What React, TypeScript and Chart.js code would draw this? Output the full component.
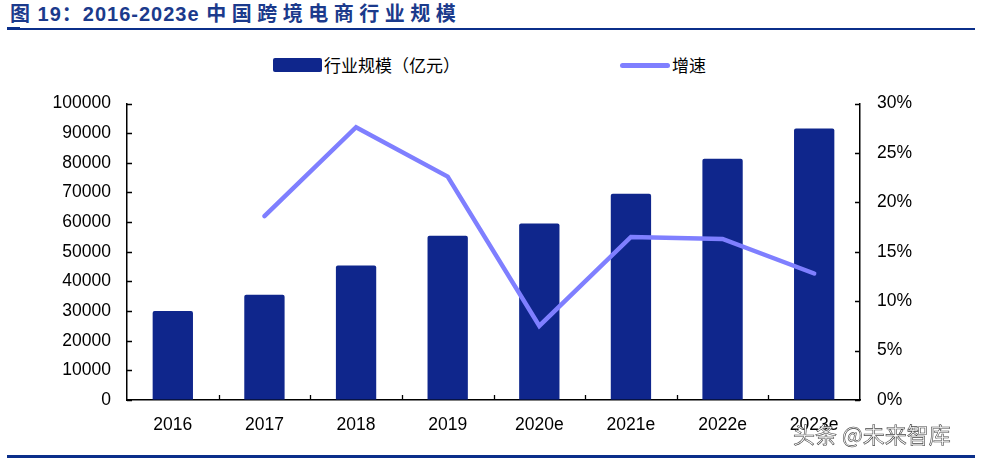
import React, { useEffect, useRef } from "react";
import { Chart, registerables } from "chart.js";

Chart.register(...registerables);

const categories = ["2016", "2017", "2018", "2019", "2020e", "2021e", "2022e", "2023e"];
const marketSize = [30000, 35500, 45400, 55400, 59500, 69600, 81400, 91600];
const growthRate = [null, 0.186, 0.276, 0.226, 0.075, 0.165, 0.163, 0.128];
const leftTicks = [0, 10000, 20000, 30000, 40000, 50000, 60000, 70000, 80000, 90000, 100000];
const rightTicks = [0, 0.05, 0.1, 0.15, 0.2, 0.25, 0.3];

const BAR_COLOR = "#0F268C";
const LINE_COLOR = "#7F7FFF";
const FONT = "'Liberation Sans', Arial, sans-serif";

const innerTicks = {
  id: "innerTicks",
  afterDraw(chart: any) {
    const { ctx, chartArea } = chart;
    const x = chart.scales.x;
    const y = chart.scales.y;
    const y1 = chart.scales.y1;
    ctx.save();
    ctx.strokeStyle = "#000";
    ctx.lineWidth = 1.3;
    ctx.beginPath();
    y.ticks.forEach((_: any, i: number) => {
      const py = Math.round(y.getPixelForTick(i)) + 0.5;
      ctx.moveTo(chartArea.left, py);
      ctx.lineTo(chartArea.left + 5, py);
    });
    y1.ticks.forEach((_: any, i: number) => {
      const py = Math.round(y1.getPixelForTick(i)) + 0.5;
      ctx.moveTo(chartArea.right - 5, py);
      ctx.lineTo(chartArea.right, py);
    });
    for (let i = 0; i < categories.length - 1; i++) {
      const px = Math.round((x.getPixelForTick(i) + x.getPixelForTick(i + 1)) / 2) + 0.5;
      ctx.moveTo(px, chartArea.bottom);
      ctx.lineTo(px, chartArea.bottom - 5);
    }
    ctx.stroke();
    ctx.restore();
  },
};

export default function App() {
  const ref = useRef<HTMLCanvasElement | null>(null);

  useEffect(() => {
    if (!ref.current) return;
    const chart = new Chart(ref.current, {
      data: {
        labels: categories,
        datasets: [
          {
            type: "line",
            label: "增速",
            data: growthRate,
            yAxisID: "y1",
            borderColor: LINE_COLOR,
            backgroundColor: LINE_COLOR,
            borderWidth: 4.5,
            pointRadius: 0,
            borderCapStyle: "round",
            borderJoinStyle: "miter",
            tension: 0,
            order: 0,
          } as any,
          {
            type: "bar",
            label: "行业规模（亿元）",
            data: marketSize,
            yAxisID: "y",
            backgroundColor: BAR_COLOR,
            borderRadius: 2,
            borderSkipped: "bottom",
            categoryPercentage: 1,
            barPercentage: 0.44,
            order: 1,
          } as any,
        ],
      },
      options: {
        animation: false,
        responsive: false,
        maintainAspectRatio: false,
        layout: { padding: { top: 13, bottom: 0, left: 0, right: 0 } },
        plugins: {
          legend: { display: false },
          tooltip: { enabled: false },
        },
        scales: {
          x: {
            offset: true,
            grid: { display: true, drawOnChartArea: false, drawTicks: false },
            border: { display: true, color: "#000", width: 1.5 },
            ticks: { color: "#000", font: { family: FONT, size: 17.5 }, padding: 15 },
            afterFit(scale: any) {
              scale.height = 40;
            },
          },
          y: {
            position: "left",
            min: 0,
            max: 100000,
            afterBuildTicks(scale: any) {
              scale.ticks = leftTicks.map((v) => ({ value: v }));
            },
            grid: { display: true, drawOnChartArea: false, drawTicks: false },
            border: { display: true, color: "#000", width: 1.5 },
            ticks: {
              color: "#000",
              font: { family: FONT, size: 17.5 },
              padding: 16,
              callback: (v: any) => String(v),
            },
            afterFit(scale: any) {
              scale.width = 127;
            },
          },
          y1: {
            position: "right",
            min: 0,
            max: 0.3,
            afterBuildTicks(scale: any) {
              scale.ticks = rightTicks.map((v) => ({ value: v }));
            },
            grid: { display: true, drawOnChartArea: false, drawTicks: false },
            border: { display: true, color: "#000", width: 1.5 },
            ticks: {
              color: "#000",
              font: { family: FONT, size: 17.5 },
              padding: 17,
              callback: (v: any) => Math.round(Number(v) * 100) + "%",
            },
            afterFit(scale: any) {
              scale.width = 129;
            },
          },
        },
      },
      plugins: [innerTicks],
    } as any);
    return () => chart.destroy();
  }, []);

  return (
    <div
      style={{
        position: "fixed",
        left: 0,
        top: 0,
        width: 989,
        height: 465,
        background: "#fff",
        overflow: "hidden",
        fontFamily: FONT,
      }}
    >
      <div
        style={{
          position: "absolute",
          left: 10,
          top: 1,
          fontSize: 20,
          fontWeight: "bold",
          color: "#1B3A8C",
          whiteSpace: "nowrap",
          lineHeight: "24px",
          fontFamily: "'Liberation Sans', 'Noto Sans CJK SC', sans-serif",
        }}
      >
        <span style={{ letterSpacing: 1 }}>图 19：2016-2023e </span>
        <span style={{ letterSpacing: 5.5, fontFamily: "'Noto Sans CJK SC', sans-serif" }}>中国跨境电商行业规模</span>
      </div>
      <div style={{ position: "absolute", left: 7, top: 28, width: 968, height: 2, background: "#0B2F8A" }} />
      <div style={{ position: "absolute", left: 7, top: 27, width: 13, height: 3, background: "#0B2F8A" }} />

      <div style={{ position: "absolute", left: 273, top: 58, width: 49, height: 14, background: BAR_COLOR, borderRadius: 2 }} />
      <div
        style={{
          position: "absolute",
          left: 324,
          top: 53,
          fontSize: 17,
          color: "#000",
          fontFamily: "'Noto Sans CJK SC', sans-serif",
          lineHeight: "24px",
          whiteSpace: "nowrap",
        }}
      >
        行业规模（亿元）
      </div>
      <div style={{ position: "absolute", left: 620, top: 63, width: 50, height: 5, background: LINE_COLOR, borderRadius: 3 }} />
      <div
        style={{
          position: "absolute",
          left: 672,
          top: 53,
          fontSize: 17,
          color: "#000",
          fontFamily: "'Noto Sans CJK SC', sans-serif",
          lineHeight: "24px",
          whiteSpace: "nowrap",
        }}
      >
        增速
      </div>

      <canvas
        ref={ref}
        width={989}
        height={364}
        style={{ position: "absolute", left: 0, top: 76, width: 989, height: 364 }}
      />

      <div
        style={{
          position: "absolute",
          left: 793,
          top: 419,
          fontSize: 22,
          color: "#ffffff",
          WebkitTextStroke: "0.6px #444",
          fontFamily: "'Noto Sans CJK SC', sans-serif",
          lineHeight: "28px",
          whiteSpace: "nowrap",
        }}
      >
        头条 @未来智库
      </div>
      <div style={{ position: "absolute", left: 7, top: 455, width: 968, height: 3, background: "#0B2F8A" }} />
    </div>
  );
}
